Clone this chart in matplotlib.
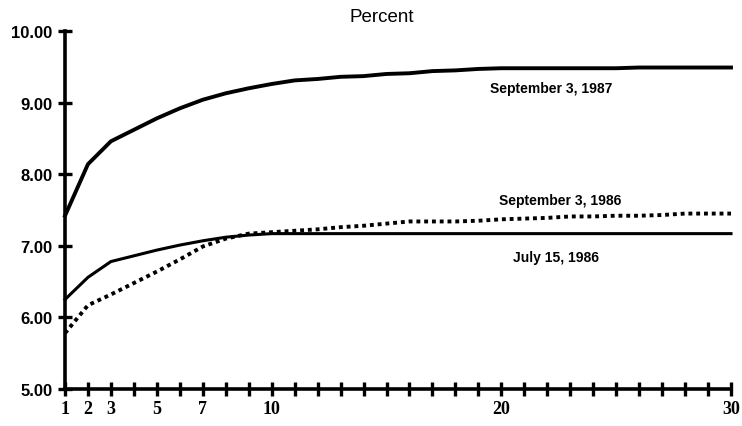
import numpy as np
import matplotlib.pyplot as plt

# maturity (years) 1..30
anos = list(range(1, 31))

# September 3, 1987
set_1987 = [7.42, 8.14, 8.46, 8.62, 8.78, 8.92, 9.04, 9.13, 9.20, 9.26,
            9.31, 9.33, 9.36, 9.37, 9.40, 9.41, 9.44, 9.45, 9.47, 9.48,
            9.48, 9.48, 9.48, 9.48, 9.48, 9.49, 9.49, 9.49, 9.49, 9.49]

# September 3, 1986
set_1986 = [5.78, 6.17, 6.32, 6.48, 6.64, 6.81, 6.99, 7.10, 7.17, 7.19,
            7.21, 7.23, 7.26, 7.28, 7.31, 7.34, 7.34, 7.34, 7.35, 7.37,
            7.38, 7.39, 7.41, 7.41, 7.42, 7.42, 7.43, 7.45, 7.45, 7.45]

# July 15, 1986
jul_1986 = [6.25, 6.56, 6.78, 6.86, 6.94, 7.01, 7.07, 7.12, 7.15, 7.17,
            7.17, 7.17, 7.17, 7.17, 7.17, 7.17, 7.17, 7.17, 7.17, 7.17,
            7.17, 7.17, 7.17, 7.17, 7.17, 7.17, 7.17, 7.17, 7.17, 7.17]

rotulos_x = [1, 2, 3, 5, 7, 10, 20, 30]
rotulos_y = [5, 6, 7, 8, 9, 10]

fig = plt.figure(figsize=(7.42, 4.27), dpi=100)
ax = fig.add_axes([65 / 742, 1 - 390 / 427, 666 / 742, 358 / 427])

ax.plot(anos, set_1987, color='black', lw=2.8, solid_joinstyle='round', clip_on=False)
ax.plot(anos, jul_1986, color='black', lw=2.2, clip_on=False)
ax.plot(anos, set_1986, color='black', lw=2.8, linestyle=(0, (1, 1.0)), clip_on=False)

ax.set_xlim(1, 30)
ax.set_ylim(5, 10)

for lado in ['top', 'right']:
    ax.spines[lado].set_visible(False)
for lado in ['left', 'bottom']:
    ax.spines[lado].set_linewidth(2.6)

ax.set_xticks(anos)
ax.set_xticklabels([str(a) if a in rotulos_x else '' for a in anos],
                   fontfamily='Liberation Serif', fontweight='bold', fontsize=13)
ax.set_yticks(rotulos_y)
ax.set_yticklabels(['%.2f' % v for v in rotulos_y],
                   fontfamily='Liberation Sans', fontweight='bold', fontsize=12)
ax.tick_params(axis='both', direction='inout', length=10, width=2.4, color='black')
ax.tick_params(axis='x', pad=3)
ax.tick_params(axis='y', pad=4)

fig.text(382 / 742, 1 - 17 / 427, 'Percent', ha='center', va='center',
         fontfamily='Liberation Sans', fontsize=13.5)

ax.text(19.5, 9.20, 'September 3, 1987', ha='left', va='center',
        fontfamily='Liberation Sans', fontweight='bold', fontsize=10)
ax.text(19.9, 7.64, 'September 3, 1986', ha='left', va='center',
        fontfamily='Liberation Sans', fontweight='bold', fontsize=10)
ax.text(20.5, 6.84, 'July 15, 1986', ha='left', va='center',
        fontfamily='Liberation Sans', fontweight='bold', fontsize=10)

fig.savefig('out.png', dpi=100)
